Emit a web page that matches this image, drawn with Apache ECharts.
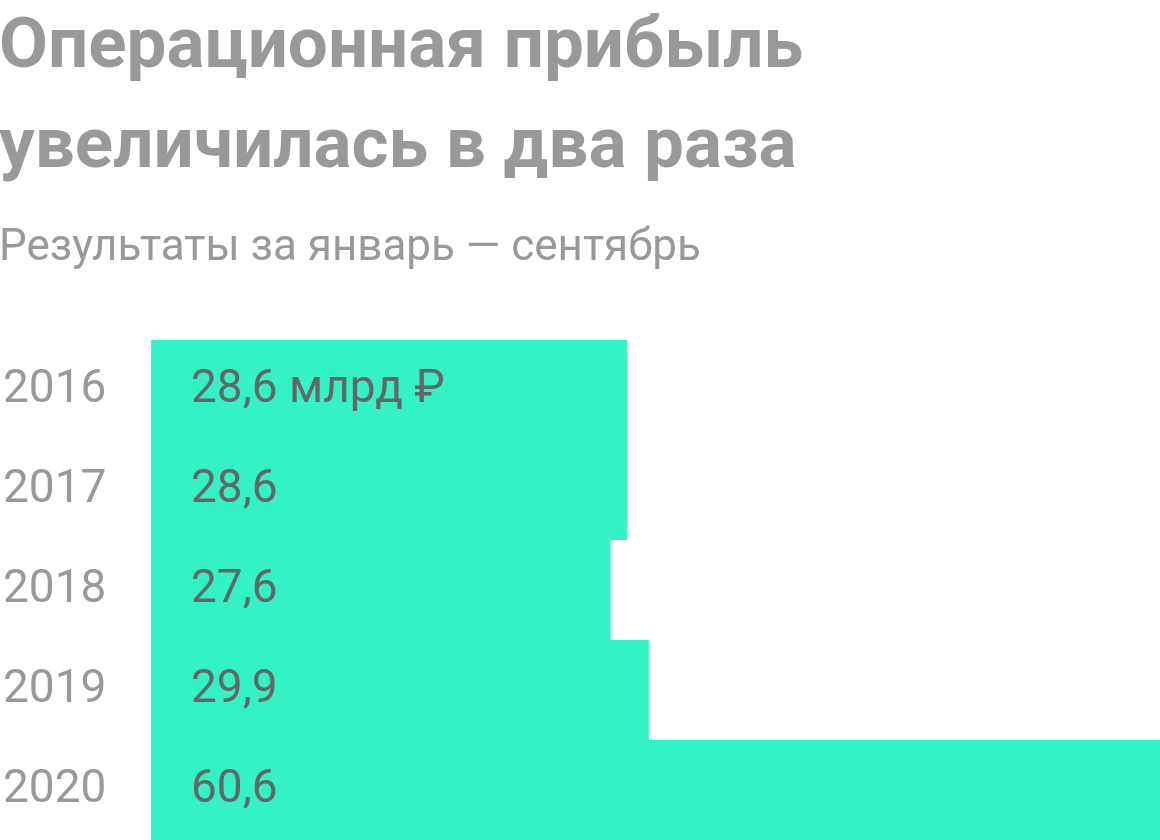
<!DOCTYPE html>
<html>
<head>
    <meta charset="utf-8">
    <title>Операционная прибыль</title>
    <script src="https://cdn.jsdelivr.net/npm/echarts@6/dist/echarts.min.js"></script>
    <style>
        html, body { margin: 0; padding: 0; background: #fff; }
        #chart { width: 1160px; height: 840px; }
    </style>
</head>
<body>
<div id="chart"></div>
<script type="text/javascript">
    // данные
    var years = ['2016', '2017', '2018', '2019', '2020'];
    var profit = [28.6, 28.6, 27.6, 29.9, 60.6];
    var unit = ' млрд ₽';

    var myChart = echarts.init(document.getElementById('chart'));

    var option = {
        animation: false,
        title: [{
            text: 'Операционная прибыль\nувеличилась в два раза',
            left: -6,
            top: -6,
            textStyle: {
                fontFamily: 'Roboto',
                fontWeight: 'bold',
                fontSize: 71,
                lineHeight: 100,
                color: '#999999'
            }
        }, {
            text: 'Результаты за январь — сентябрь',
            left: -6,
            top: 222,
            textStyle: {
                fontFamily: 'Roboto',
                fontWeight: 'normal',
                fontSize: 44,
                color: '#999999'
            }
        }],
        grid: {
            left: 145,
            right: 0,
            top: 340,
            bottom: 0,
            containLabel: false
        },
        xAxis: {
            type: 'value',
            min: 0,
            max: 60.6,
            show: false
        },
        yAxis: {
            type: 'category',
            data: years,
            inverse: true,
            axisLine: { show: false },
            axisTick: { show: false },
            axisLabel: {
                align: 'left',
                margin: 148,
                fontFamily: 'Roboto',
                fontSize: 46,
                color: '#999999'
            }
        },
        series: [{
            type: 'bar',
            data: profit,
            barCategoryGap: 0,
            itemStyle: { color: '#33F2C4' },
            label: {
                show: true,
                position: 'insideLeft',
                distance: 40,
                fontFamily: 'Roboto',
                fontSize: 46,
                color: '#666666',
                formatter: function (p) {
                    var s = p.value.toFixed(1).replace('.', ',');
                    return p.dataIndex === 0 ? s + unit : s;
                }
            }
        }]
    };

    myChart.setOption(option);
</script>
</body>
</html>
